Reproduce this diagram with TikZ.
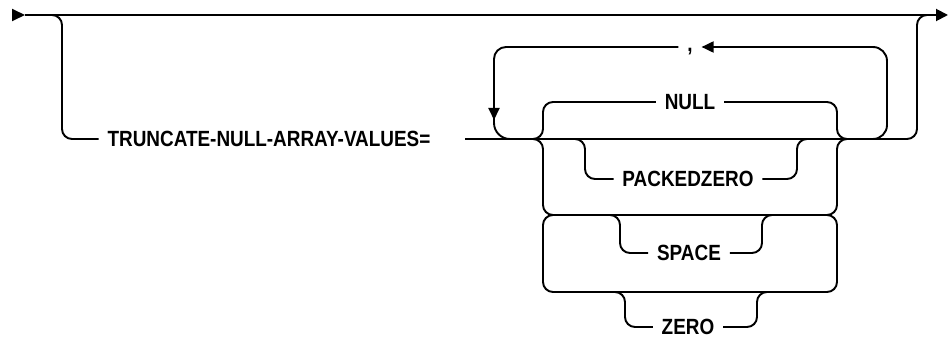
\documentclass[tikz,border=0pt]{standalone}
\usepackage{fontspec}
\setmainfont[FakeStretch=0.86]{Liberation Sans}
\usetikzlibrary{arrows.meta}
\begin{document}
\begin{tikzpicture}[x=1pt,y=-1pt, line width=1.9pt,
  rr/.style={rounded corners=10pt},
  lbl/.style={font=\fontsize{22}{26}\selectfont\bfseries, inner sep=0pt, inner xsep=8pt, text height=15.7pt, text depth=0pt},
  tip/.style={-{Triangle[length=12pt,width=11pt]}}]
\useasboundingbox (0,0) rectangle (950,339);
% labels
\node[lbl] (tr) at (269,139) {TRUNCATE-NULL-ARRAY-VALUES=};
\node[lbl] (comma) at (690,44) {,};
\node[lbl] (null) at (690,102) {NULL};
\node[lbl] (pz) at (688,179) {PACKEDZERO};
\node[lbl] (sp) at (689,253) {SPACE};
\node[lbl] (ze) at (688,327) {ZERO};
% junction points
\coordinate (s0) at (12,15); \coordinate (s1) at (25,15); \coordinate (e) at (948,15);
\coordinate (b1) at (50,15); \coordinate (b2) at (62,15); \coordinate (b3) at (62,139);
\coordinate (m0) at (465,139); \coordinate (m1) at (917,139); \coordinate (m2) at (917,15); \coordinate (m3) at (930,15);
% main line
\draw[-{Triangle[length=13pt,width=12pt]}] (s0) -- (s1);
\draw[-{Triangle[length=12pt,width=12pt]}] (s1) -- (e);
\draw[rr] (b1) -- (b2) -- (b3) -- (tr.west);
\draw[rr] (m0) -- (m1) -- (m2) -- (m3);
% repeat loop
\draw[rounded corners=14pt, tip] (860,139) -- (887,139) -- (887,47) -- (comma.east |- 0,47);
\draw[rounded corners=12pt, tip] (comma.west |- 0,47) -- (494,47) -- (494,120);
\draw[rounded corners=16pt] (494,100) -- (494,139) -- (520,139);
% NULL
\draw[rr] (528,139) -- (543,139) -- (543,102) -- (null.west);
\draw[rr] (null.east) -- (837,102) -- (837,139) -- (852,139);
% stack
\draw[rr] (528,139) -- (543,139) -- (543,215) -- (570,215);
\draw[rr] (570,215) -- (543,215) -- (543,292) -- (837,292) -- (837,215) -- (810,215);
\draw[rr] (810,215) -- (837,215) -- (837,139) -- (852,139);
\draw (570,215) -- (810,215);
% PACKEDZERO
\draw[rr] (573,139) -- (585,139) -- (585,179) -- (pz.west);
\draw[rr] (pz.east) -- (797,179) -- (797,139) -- (809,139);
% SPACE
\draw[rr] (608,215) -- (620,215) -- (620,253) -- (sp.west);
\draw[rr] (sp.east) -- (762,253) -- (762,215) -- (774,215);
% ZERO
\draw[rr] (613,292) -- (625,292) -- (625,327) -- (ze.west);
\draw[rr] (ze.east) -- (757,327) -- (757,292) -- (769,292);
\end{tikzpicture}
\end{document}
